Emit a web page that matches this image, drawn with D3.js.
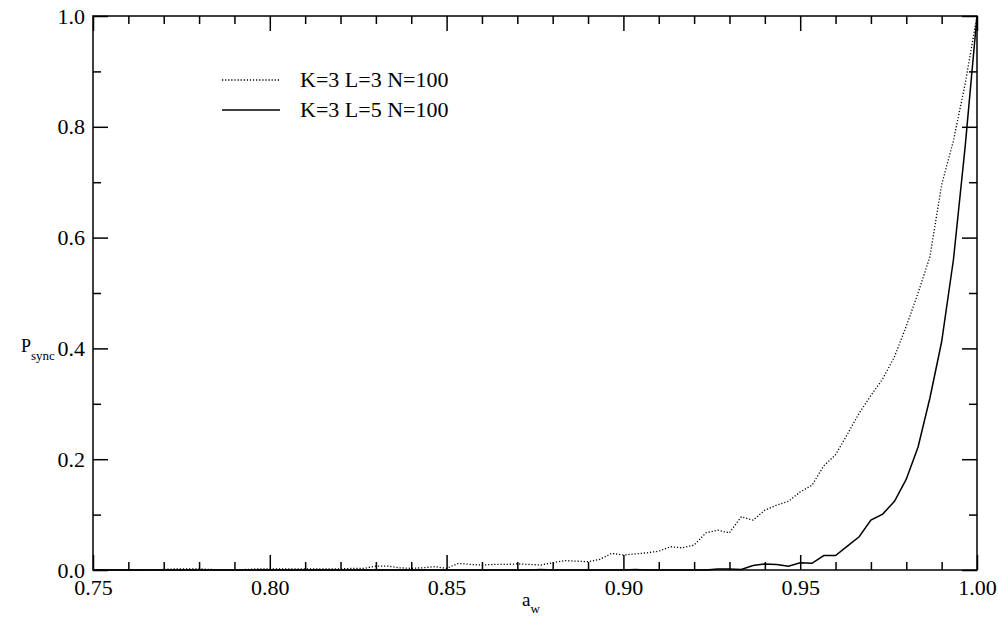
<!DOCTYPE html>
<html><head><meta charset="utf-8">
<script src="https://cdn.jsdelivr.net/npm/d3@7/dist/d3.min.js"></script>
<style>
html,body{margin:0;padding:0;background:#fff;}
svg{display:block;}
svg text{font-family:"Liberation Serif","Tinos","Times New Roman","DejaVu Serif",serif !important;}
</style></head>
<body>
<svg id="chart" width="998" height="623"></svg>
<script>
// a_w grid: 0.75 .. 1.00 in steps of 1/300
const aw = d3.range(0, 76).map(i => 0.75 + i / 300);
// K=3 L=3 N=100 (dotted)
const seriesL3 = [
  0,0,0,0,0,0,0.001,0.002,0.002,0.002,
  0.001,0,0,0.001,0.002,0.002,0.002,0.002,0.002,0.002,
  0.002,0.002,0.003,0.003,0.007,0.007,0.004,0.003,0.004,0.006,
  0.003,0.012,0.010,0.009,0.010,0.010,0.011,0.010,0.009,0.013,
  0.017,0.016,0.015,0.019,0.030,0.027,0.029,0.031,0.034,0.042,
  0.040,0.045,0.067,0.072,0.067,0.096,0.090,0.108,0.117,0.124,
  0.141,0.153,0.188,0.208,0.245,0.283,0.315,0.345,0.385,0.440,
  0.500,0.565,0.695,0.775,0.878,1.0
];
// K=3 L=5 N=100 (solid)
const seriesL5 = [
  0,0,0,0,0,0,0,0,0,0,
  0,0,0,0,0,0,0,0,0,0,
  0,0,0,0,0,0,0,0,0,0,
  0,0,0,0,0,0,0,0,0.001,0,
  0,0,0,0,0,0,0.001,0,0,0,
  0,0,0,0.002,0.002,0.001,0.008,0.011,0.010,0.007,
  0.013,0.012,0.026,0.026,0.043,0.060,0.090,0.101,0.124,0.164,
  0.222,0.310,0.412,0.560,0.765,1.0
];
const legendLabels = ["K=3 L=3 N=100", "K=3 L=5 N=100"];
const xMajor = [0.75, 0.80, 0.85, 0.90, 0.95, 1.00];
const xMinor = d3.range(0, 26).map(i => 0.75 + i * 0.01).filter(v => Math.abs(Math.round(v*100) % 5) !== 0);
const yMajor = [0.0, 0.2, 0.4, 0.6, 0.8, 1.0];
const yMinor = [0.1, 0.3, 0.5, 0.7, 0.9];

const FONT = "'Liberation Serif', 'Tinos', 'Times New Roman', 'DejaVu Serif', serif";
const svg = d3.select("#chart");
const L = 93, R = 977, T = 16, B = 570;
const x = d3.scaleLinear().domain([0.75, 1.0]).range([L, R]);
const y = d3.scaleLinear().domain([0, 1]).range([B, T]);

function styleAxis(g){
  g.attr("font-family", FONT).attr("font-size", 22);
  g.select(".domain").remove();
  g.selectAll("line").attr("stroke", "#000").attr("stroke-width", 1.5);
  g.selectAll("text").attr("fill", "#000");
}
// bottom
svg.append("g").attr("transform", `translate(0,${B})`)
  .call(d3.axisBottom(x).tickValues(xMajor).tickSize(-15).tickFormat(d3.format(".2f")))
  .call(styleAxis)
  .call(g => g.selectAll("text").attr("dy", null).attr("y", 25));
svg.append("g").attr("transform", `translate(0,${B})`)
  .call(d3.axisBottom(x).tickValues(xMinor).tickSize(-8).tickFormat(""))
  .call(styleAxis);
// top
svg.append("g").attr("transform", `translate(0,${T})`)
  .call(d3.axisTop(x).tickValues(xMajor).tickSize(-15).tickFormat(""))
  .call(styleAxis);
svg.append("g").attr("transform", `translate(0,${T})`)
  .call(d3.axisTop(x).tickValues(xMinor).tickSize(-8).tickFormat(""))
  .call(styleAxis);
// left
svg.append("g").attr("transform", `translate(${L},0)`)
  .call(d3.axisLeft(y).tickValues(yMajor).tickSize(-15).tickPadding(8).tickFormat(d3.format(".1f")))
  .call(styleAxis);
svg.append("g").attr("transform", `translate(${L},0)`)
  .call(d3.axisLeft(y).tickValues(yMinor).tickSize(-8).tickFormat(""))
  .call(styleAxis);
// right
svg.append("g").attr("transform", `translate(${R},0)`)
  .call(d3.axisRight(y).tickValues(yMajor).tickSize(-15).tickFormat(""))
  .call(styleAxis);
svg.append("g").attr("transform", `translate(${R},0)`)
  .call(d3.axisRight(y).tickValues(yMinor).tickSize(-8).tickFormat(""))
  .call(styleAxis);

// curves
const line = d3.line().x(d => x(d[0])).y(d => y(d[1]));
svg.append("path").datum(aw.map((a, i) => [a, seriesL3[i]]))
  .attr("d", line).attr("fill", "none").attr("stroke", "#000")
  .attr("stroke-width", 1.3).attr("stroke-dasharray", "1.2,1.9");
svg.append("path").datum(aw.map((a, i) => [a, seriesL5[i]]))
  .attr("d", line).attr("fill", "none").attr("stroke", "#000")
  .attr("stroke-width", 1.5);

// frame
svg.append("rect").attr("x", L).attr("y", T).attr("width", R - L).attr("height", B - T)
  .attr("fill", "none").attr("stroke", "#000").attr("stroke-width", 1.5);

// legend
const leg = svg.append("g").attr("font-family", FONT);
[0, 1].forEach(k => {
  const by = 87 + k * 30;
  leg.append("line").attr("x1", 222).attr("x2", 280).attr("y1", by - 7).attr("y2", by - 7)
    .attr("stroke", "#000").attr("stroke-width", k === 0 ? 1.3 : 1.5)
    .attr("stroke-dasharray", k === 0 ? "1.2,1.9" : null);
  leg.append("text").attr("x", 300).attr("y", by).attr("font-size", 22).text(legendLabels[k]);
});

// axis titles
const yt = svg.append("text").attr("x", 21).attr("y", 352).attr("font-size", 18).attr("font-family", FONT);
yt.append("tspan").text("P");
yt.append("tspan").attr("dy", 8).attr("font-size", 13).text("sync");
const xt = svg.append("text").attr("x", 522).attr("y", 606).attr("font-size", 19).attr("font-family", FONT);
xt.append("tspan").text("a");
xt.append("tspan").attr("dy", 7).attr("font-size", 13).text("w");
</script>
</body></html>
